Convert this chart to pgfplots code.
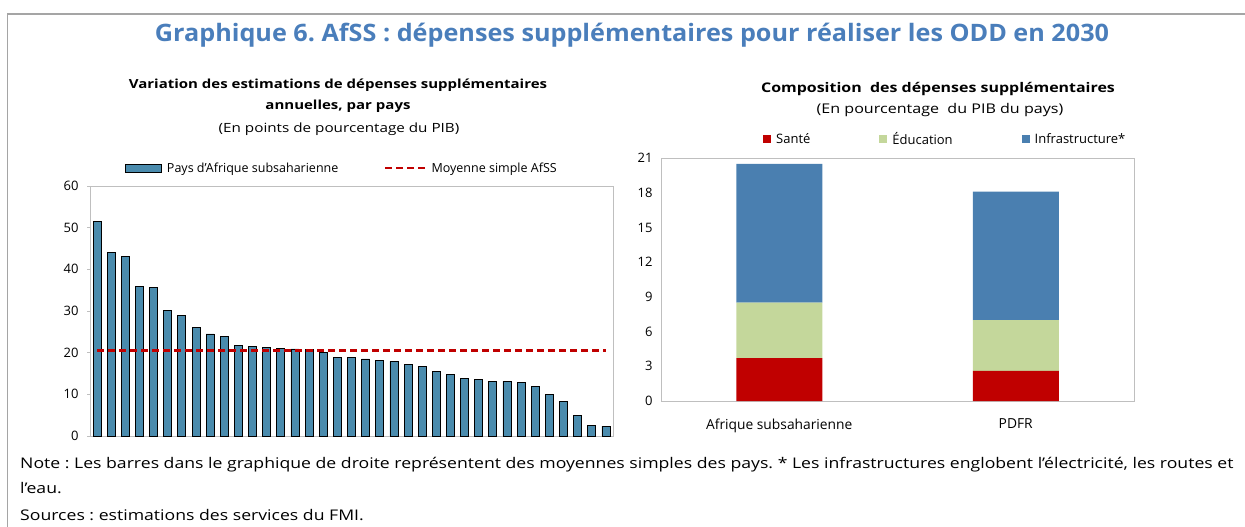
\documentclass[border=0pt]{standalone}
\usepackage{fontspec}
\setmainfont{Open Sans}
\newfontfamily\widefont{Open Sans}[FakeStretch=1.2]
\newfontfamily\titlefont{Open Sans}[FakeStretch=1.05]
\usepackage{pgfplots}
\pgfplotsset{compat=1.18}
\frenchspacing
\definecolor{titleblue}{HTML}{4A7EBB}
\definecolor{barblue}{HTML}{4A8BAD}
\definecolor{sred}{HTML}{C00000}
\definecolor{sgreen}{HTML}{C4D79B}
\definecolor{sblue}{HTML}{4A7FB0}
\definecolor{framegray}{HTML}{A5A5A5}
\definecolor{axgray}{HTML}{BFBFBF}
\begin{document}
\begin{tikzpicture}[x=1pt,y=1pt]
\draw[framegray, line width=1.3pt] (7.7,-527) -- (7.7,-14) -- (1245,-14);
\node[font=\titlefont\bfseries\fontsize{24}{28}\selectfont, text=titleblue] at (632,-35) {Graphique 6. AfSS : dépenses supplémentaires pour réaliser les ODD en 2030};
\node[font=\widefont\bfseries\fontsize{12.5}{15}\selectfont] at (338,-85) {Variation des estimations de dépenses supplémentaires};
\node[font=\widefont\bfseries\fontsize{12.5}{15}\selectfont] at (338,-106) {annuelles, par pays};
\node[font=\widefont\fontsize{12.7}{15}\selectfont] at (339,-129) {(En points de pourcentage du PIB)};
\node[font=\widefont\bfseries\fontsize{13.3}{15}\selectfont] at (938,-89) {Composition\ \ des dépenses supplémentaires};
\node[font=\widefont\fontsize{13.4}{15}\selectfont] at (940,-110) {(En pourcentage\ \ du PIB du pays)};
\node[font=\widefont\fontsize{14.7}{16}\selectfont, anchor=base west, inner sep=0pt] at (20,-468) {Note : Les barres dans le graphique de droite représentent des moyennes simples des pays. * Les infrastructures englobent l’électricité, les routes et};
\node[font=\widefont\fontsize{14.7}{16}\selectfont, anchor=base west, inner sep=0pt] at (20,-493) {l’eau.};
\node[font=\widefont\fontsize{14.7}{16}\selectfont, anchor=base west, inner sep=0pt] at (20,-520) {Sources : estimations des services du FMI.};

\begin{axis}[at={(90pt,-436pt)}, anchor=south west, scale only axis,
  width=523pt, height=250pt,
  xmin=0.5, xmax=37.5, ymin=0, ymax=60,
  ytick={0,10,...,60}, xtick=\empty,
  axis line style={axgray, line width=0.9pt},
  ytick pos=left, tick align=outside, major tick length=3pt,
  tick style={axgray, line width=0.9pt},
  /pgf/number format/assume math mode=true,
  ticklabel style={font=\fontsize{13}{15}\selectfont},
  yticklabel style={xshift=-5pt},
  legend columns=2,
  legend style={draw=none, fill=none, at={(0.0669,1.072)}, anchor=west,
    font=\fontsize{12.5}{14}\selectfont, inner sep=0pt,
    /tikz/every odd column/.append style={column sep=3pt},
    /tikz/every even column/.append style={column sep=44pt}},
  legend cell align=left,
  clip=false]
\addplot[ybar, bar shift=0pt, bar width=8pt, fill=barblue, draw=black, line width=0.8pt,
  legend image code/.code={\draw[fill=barblue,draw=black,line width=0.8pt] (0pt,-4pt) rectangle (36pt,4pt);}]
  coordinates {
  (1,51.4) (2,44.1) (3,43.0) (4,36.0) (5,35.6) (6,30.2) (7,28.9) (8,26.0) (9,24.5) (10,23.9)
  (11,21.7) (12,21.5) (13,21.3) (14,21.1) (15,20.9) (16,20.8) (17,20.0) (18,18.9) (19,18.75) (20,18.5)
  (21,18.1) (22,17.9) (23,17.1) (24,16.6) (25,15.5) (26,14.7) (27,13.9) (28,13.6) (29,13.2) (30,13.1)
  (31,12.8) (32,11.9) (33,10.0) (34,8.2) (35,5.0) (36,2.6) (37,2.4)};
\addlegendentry{Pays d’Afrique subsaharienne}
\addplot[sred, line width=2.2pt, dash pattern=on 7pt off 4pt,
  legend image code/.code={\draw[sred, line width=2.2pt, dash pattern=on 7pt off 4pt] (0pt,0pt) -- (40pt,0pt);}]
  coordinates {(1,20.5) (37,20.5)};
\addlegendentry{Moyenne simple AfSS}
\end{axis}

\begin{axis}[at={(661pt,-401pt)}, anchor=south west, scale only axis,
  width=473pt, height=243pt,
  xmin=-0.5, xmax=1.5, ymin=0, ymax=21,
  ytick={0,3,...,21}, xtick={0,1},
  xticklabels={Afrique subsaharienne, PDFR},
  ybar stacked, bar width=86pt,
  axis line style={axgray, line width=0.9pt},
  major tick length=0pt,
  /pgf/number format/assume math mode=true,
  ticklabel style={font=\fontsize{13}{15}\selectfont},
  yticklabel style={xshift=-5pt},
  xticklabel style={yshift=-14pt, font=\fontsize{13.8}{15}\selectfont},
  legend columns=3,
  legend style={draw=none, fill=none, at={(0.2156,1.078)}, anchor=west,
    font=\fontsize{13}{14}\selectfont, inner sep=0pt,
    /tikz/every odd column/.append style={column sep=3pt},
    /tikz/every even column/.append style={column sep=67pt}},
  legend cell align=left,
  clip=false]
\addplot[fill=sred, draw=none,
  legend image code/.code={\fill[sred] (0pt,-4pt) rectangle (8pt,4pt);}]
  coordinates {(0,3.7) (1,2.6)};
\addlegendentry{Santé}
\addplot[fill=sgreen, draw=none,
  legend image code/.code={\fill[sgreen] (0pt,-4pt) rectangle (8pt,4pt);}]
  coordinates {(0,4.8) (1,4.4)};
\addlegendentry{Éducation}
\addplot[fill=sblue, draw=none,
  legend image code/.code={\fill[sblue] (0pt,-4pt) rectangle (8pt,4pt);}]
  coordinates {(0,12.0) (1,11.1)};
\addlegendentry{Infrastructure*}
\end{axis}
\pgfresetboundingbox
\useasboundingbox (0,0) rectangle (1245,-527);
\end{tikzpicture}
\end{document}
